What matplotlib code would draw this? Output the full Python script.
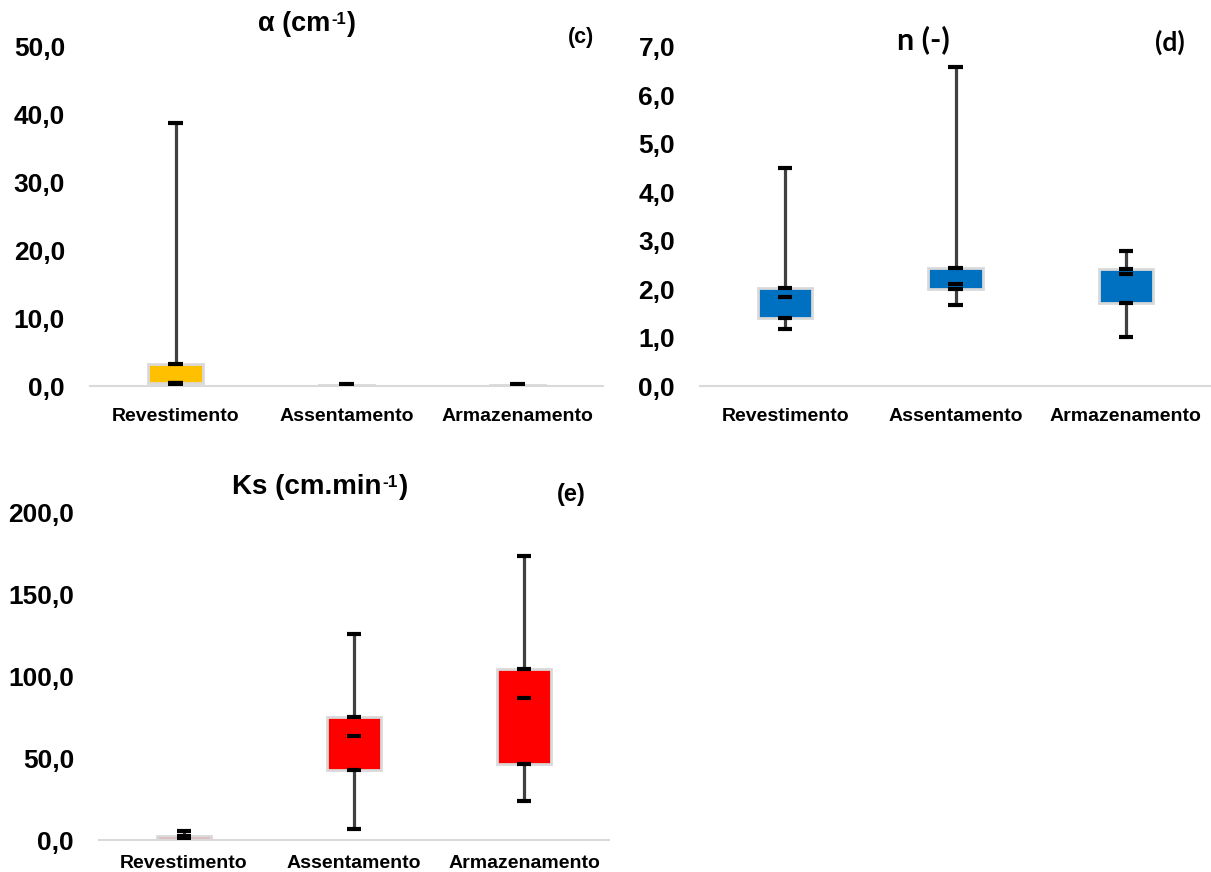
import matplotlib
matplotlib.use("Agg")
import matplotlib.pyplot as plt
from matplotlib.ticker import FuncFormatter, MultipleLocator

plt.rcParams['font.family'] = ['Liberation Sans', 'DejaVu Sans']
plt.rcParams['font.weight'] = 'bold'

categories = ['Revestimento', 'Assentamento', 'Armazenamento']

# five-number summaries: min, Q1, median, Q3, max
alpha_min = [0.05, 0.02, 0.02]
alpha_q1 = [0.4, 0.05, 0.05]
alpha_med = [0.5, 0.12, 0.1]
alpha_q3 = [3.3, 0.2, 0.18]
alpha_max = [38.8, 0.35, 0.3]

n_min = [1.18, 1.67, 1.01]
n_q1 = [1.41, 2.01, 1.71]
n_med = [1.84, 2.10, 2.31]
n_q3 = [2.02, 2.43, 2.41]
n_max = [4.50, 6.59, 2.78]

ks_min = [0.3, 6.5, 23.6]
ks_q1 = [0.5, 42.5, 46.2]
ks_med = [1.5, 63.2, 86.4]
ks_q3 = [2.5, 74.8, 104.0]
ks_max = [5.2, 125.6, 173.0]


def comma(v, pos):
    return '{:.1f}'.format(v).replace('.', ',')


def box_panel(ax, mins, q1, med, q3, maxs, color, ymax, step, xpad):
    x = list(range(len(categories)))
    ax.vlines(x, mins, maxs, color='#404040', linewidth=2.3, zorder=1)
    heights = [b - a for a, b in zip(q1, q3)]
    ax.bar(x, heights, bottom=q1, width=0.32, color=color,
           edgecolor='#d9d9d9', linewidth=2, zorder=2)
    for vals in (mins, q1, med, q3, maxs):
        ax.hlines(vals, [i - 0.042 for i in x], [i + 0.042 for i in x],
                  color='black', linewidth=3, zorder=3)
    ax.set_xlim(-0.5, len(categories) - 0.5)
    ax.set_ylim(0, ymax)
    ax.yaxis.set_major_locator(MultipleLocator(step))
    ax.yaxis.set_major_formatter(FuncFormatter(comma))
    ax.set_xticks(x)
    ax.set_xticklabels(categories, fontsize=14, fontweight='bold')
    ax.tick_params(axis='x', length=0, pad=xpad)
    ax.tick_params(axis='y', length=0, pad=18, labelsize=19)
    for lab in ax.get_yticklabels():
        lab.set_fontweight('bold')
    for s in ('top', 'right', 'left'):
        ax.spines[s].set_visible(False)
    ax.spines['bottom'].set_color('#d9d9d9')
    ax.spines['bottom'].set_linewidth(1.5)
    ax.spines['bottom'].set_zorder(0)


W, H = 1211, 872
fig = plt.figure(figsize=(W / 100, H / 100), dpi=100)


def px_axes(x0, y0, x1, y1):
    return fig.add_axes([x0 / W, 1 - y1 / H, (x1 - x0) / W, (y1 - y0) / H])


def sup_title(x, y, base, sup, size):
    # title with a small raised "-1" exponent, as in the original
    t1 = fig.text(x / W, 1 - y / H, base, fontsize=size, fontweight='bold',
                  ha='left', va='center')
    t2 = fig.text(0, 0, sup, fontsize=size * 0.62, fontweight='bold',
                  ha='left', va='top')
    fig.canvas.draw()
    bb = t1.get_window_extent()
    t2.set_transform(None)
    t2.set_position((bb.x1 + 1, bb.y1 - 1))
    fig.canvas.draw()
    bb2 = t2.get_window_extent()
    t3 = fig.text(0, 0, ')', fontsize=size, fontweight='bold', ha='left', va='bottom')
    t3.set_transform(None)
    t3.set_position((bb2.x1 + 1, bb.y0))


ax_c = px_axes(90, 47, 603, 386)
box_panel(ax_c, alpha_min, alpha_q1, alpha_med, alpha_q3, alpha_max, '#FFC000', 50, 10, 16)

ax_d = px_axes(700, 47, 1211, 386)
box_panel(ax_d, n_min, n_q1, n_med, n_q3, n_max, '#0070C0', 7, 1, 16)

ax_e = px_axes(99, 512, 609, 840)
box_panel(ax_e, ks_min, ks_q1, ks_med, ks_q3, ks_max, '#FF0000', 200, 50, 11)

sup_title(258, 24, 'α (cm', '-1', 19.5)
fig.text(581 / W, 1 - 37 / H, '(c)', fontsize=15.5, fontweight='bold',
         ha='center', va='center')
fig.text(923 / W, 1 - 40 / H, 'n (-)', fontsize=22, fontweight='bold',
         ha='center', va='center', family='Lato')
fig.text(1170 / W, 1 - 42 / H, '(d)', fontsize=19, fontweight='bold',
         ha='center', va='center', family='Lato')
sup_title(232, 487, 'Ks (cm.min', '-1', 20)
fig.text(571 / W, 1 - 494 / H, '(e)', fontsize=17, fontweight='bold',
         ha='center', va='center')

fig.savefig('out.png', dpi=100)
